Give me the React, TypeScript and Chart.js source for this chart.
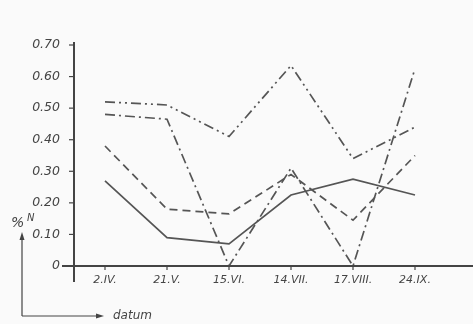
import React, { useEffect, useRef } from "react";
import { Chart, registerables } from "chart.js";

Chart.register(...registerables);

const categories = ["2.IV.", "21.V.", "15.VI.", "14.VII.", "17.VIII.", "24.IX."];
const solidSeries = [0.27, 0.09, 0.07, 0.225, 0.275, 0.225];
const dashedSeries = [0.38, 0.18, 0.165, 0.29, 0.145, 0.35];
const dashDotSeries = [0.48, 0.465, 0.0, 0.31, 0.0, 0.625];
const dashDotDotSeries = [0.52, 0.51, 0.41, 0.635, 0.34, 0.44];
const yTicks = [0, 0.1, 0.2, 0.3, 0.4, 0.5, 0.6, 0.7];

const INK = "#555555";
const FONT = "'DejaVu Sans', sans-serif";

const decorPlugin = {
  id: "decor",
  afterDraw(chart: any) {
    const ctx = chart.ctx;
    const x = chart.scales.x;
    const y = chart.scales.y;
    const x0 = y.left + y.width;
    const y0 = y.getPixelForValue(0);
    const yTop = y.getPixelForValue(0.7);
    ctx.save();
    ctx.strokeStyle = "#444";
    ctx.lineWidth = 2;
    ctx.beginPath();
    ctx.moveTo(x0, yTop - 3);
    ctx.lineTo(x0, y0 + 16);
    ctx.stroke();
    ctx.beginPath();
    ctx.moveTo(x0 - 12, y0);
    ctx.lineTo(chart.width, y0);
    ctx.stroke();
    ctx.lineWidth = 1.2;
    yTicks.forEach((v) => {
      if (v === 0) return;
      const py = y.getPixelForValue(v);
      ctx.beginPath();
      ctx.moveTo(x0 - 5, py);
      ctx.lineTo(x0, py);
      ctx.stroke();
    });
    categories.forEach((_, i) => {
      const px = x.getPixelForValue(i);
      ctx.beginPath();
      ctx.moveTo(px, y0);
      ctx.lineTo(px, y0 + 4);
      ctx.stroke();
    });
    ctx.fillStyle = "#444";
    ctx.font = "italic 14px " + FONT;
    ctx.textAlign = "left";
    ctx.textBaseline = "middle";
    ctx.fillText("%", 11, 223);
    ctx.font = "italic 10px " + FONT;
    ctx.fillText("N", 27, 218);
    ctx.lineWidth = 1.2;
    ctx.beginPath();
    ctx.moveTo(22, 316);
    ctx.lineTo(22, 236);
    ctx.moveTo(22, 316);
    ctx.lineTo(100, 316);
    ctx.stroke();
    ctx.beginPath();
    ctx.moveTo(22, 232);
    ctx.lineTo(19.5, 240);
    ctx.lineTo(24.5, 240);
    ctx.closePath();
    ctx.fill();
    ctx.beginPath();
    ctx.moveTo(104, 316);
    ctx.lineTo(96, 313.5);
    ctx.lineTo(96, 318.5);
    ctx.closePath();
    ctx.fill();
    ctx.font = "italic 12px " + FONT;
    ctx.fillText("datum", 113, 316);
    ctx.restore();
  },
};

export default function App() {
  const ref = useRef<HTMLCanvasElement | null>(null);
  useEffect(() => {
    document.body.style.margin = "0";
    document.body.style.background = "#fafafa";
    if (!ref.current) return;
    const mk = (label: string, data: number[], dash: number[]) => ({
      label,
      data,
      borderColor: INK,
      borderWidth: 1.7,
      borderDash: dash,
      pointRadius: 0,
      fill: false,
      tension: 0,
    });
    const chart = new Chart(ref.current, {
      type: "line",
      data: {
        labels: categories,
        datasets: [
          mk("solid", solidSeries, []),
          mk("dashed", dashedSeries, [8, 5]),
          mk("dashdot", dashDotSeries, [10, 4, 2, 4]),
          mk("dashdotdot", dashDotDotSeries, [10, 4, 2, 4, 2, 4]),
        ],
      },
      options: {
        animation: false,
        responsive: false,
        maintainAspectRatio: false,
        layout: { padding: { top: 45, right: 27, left: 0, bottom: 0 } },
        plugins: { legend: { display: false }, tooltip: { enabled: false } },
        scales: {
          x: {
            type: "category",
            offset: true,
            grid: { display: false },
            border: { display: false },
            ticks: {
              color: "#444",
              font: { family: FONT, style: "italic", size: 11 },
              padding: 0,
              maxRotation: 0,
              autoSkip: false,
            },
            afterFit: (s: any) => {
              s.height = 58;
            },
          },
          y: {
            type: "linear",
            min: 0,
            max: 0.7,
            grid: { display: false },
            border: { display: false },
            afterBuildTicks: (s: any) => {
              s.ticks = yTicks.map((v) => ({ value: v }));
            },
            ticks: {
              color: "#444",
              font: { family: FONT, style: "italic", size: 12.5 },
              padding: 6,
              callback: (v: any) => (Number(v) === 0 ? "0" : Number(v).toFixed(2)),
            },
            afterFit: (s: any) => {
              s.width = 74;
            },
          },
        },
      },
      plugins: [decorPlugin],
    });
    return () => chart.destroy();
  }, []);
  return (
    <div style={{ position: "fixed", left: 0, top: 0, width: 473, height: 324, background: "#fafafa" }}>
      <canvas ref={ref} width={473} height={324} style={{ width: 473, height: 324 }} />
    </div>
  );
}
